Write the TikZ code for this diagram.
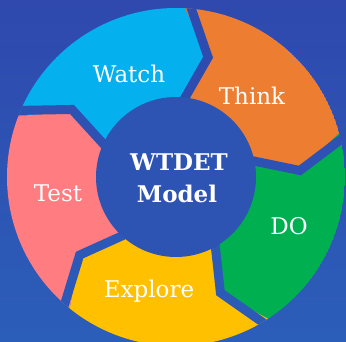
\documentclass[tikz,border=0pt]{standalone}
\usepackage{fontspec}
\setmainfont{DejaVu Serif}
\definecolor{bgtop}{HTML}{2F49AE}
\definecolor{bgbot}{HTML}{2B5EB9}
\definecolor{hub}{HTML}{2D53B3}
\definecolor{watchc}{HTML}{05B0EE}
\definecolor{thinkc}{HTML}{ED7D31}
\definecolor{doc}{HTML}{00AF50}
\definecolor{explorec}{HTML}{FFC000}
\definecolor{testc}{HTML}{FF7C80}
\tikzstyle{steplabel} = [text=white, font=\fontsize{23}{26}\selectfont, anchor=base]
\tikzstyle{gapline} = [line width=9pt, line join=miter]
\newcommand{\arrowseg}[2]{\fill[#1] (#2:169) arc[start angle=#2, end angle=#2-72, radius=169] -- (#2-84:124) -- (#2-72:78) arc[start angle=#2-72, end angle=#2, radius=78] -- (#2-12:124) -- cycle;}
\newcommand{\gap}[2]{\draw[gapline, #1] (#2:70) -- (#2-12:124) -- (#2:185);}

\begin{document}
\begin{tikzpicture}[x=1pt, y=1pt]
				\shade[top color=bgtop, bottom color=bgbot] (-176,-165) rectangle (170,177);
				\useasboundingbox (-176,-165) rectangle (170,177);
				\begin{scope}
					\clip (0,0) circle (169);
					\arrowseg{watchc}{159}
					\arrowseg{thinkc}{87}
					\arrowseg{doc}{15}
					\arrowseg{explorec}{-57}
					\arrowseg{testc}{-129}
					\gap{bgbot!16!bgtop}{87}
					\gap{bgbot!44!bgtop}{15}
					\gap{bgbot!80!bgtop}{-57}
					\gap{bgbot!77!bgtop}{-129}
					\gap{bgbot!37!bgtop}{159}
				\end{scope}
				\fill[hub] (0,0) circle (80);
				\node[steplabel] (watch) at (-47,94) {Watch};
				\node[steplabel] (think) at (76,72) {Think};
				\node[steplabel] (do) at (113,-58) {DO};
				\node[steplabel] (explore) at (-27,-121) {Explore};
				\node[steplabel] (test) at (-118,-25) {Test};
				\node[steplabel, font=\fontsize{23}{26}\selectfont\bfseries] (title) at (3,6) {WTDET};
				\node[steplabel, font=\fontsize{23}{26}\selectfont\bfseries] (model) at (1,-26) {Model};
	\end{tikzpicture}
\end{document}
